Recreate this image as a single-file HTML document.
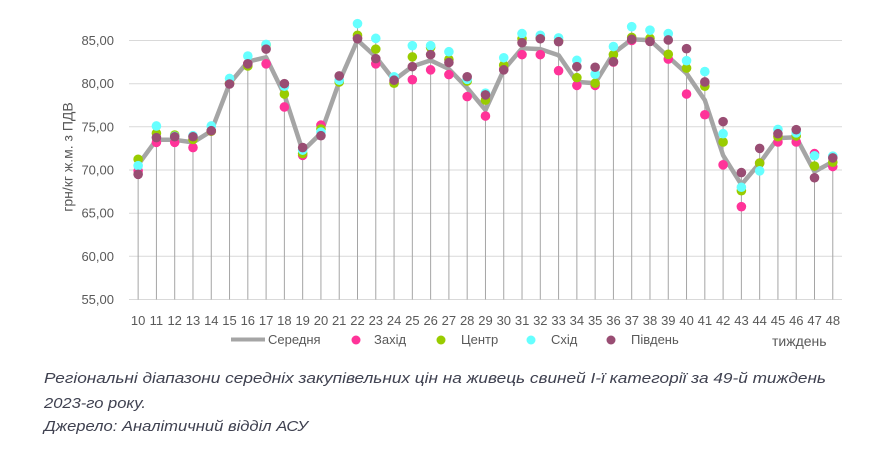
<!DOCTYPE html>
<html><head><meta charset="utf-8">
<style>
html,body{margin:0;padding:0;background:#fff;}
svg{display:block;}
.t{font-family:"Liberation Sans",sans-serif;fill:#595959;}
.c{font-family:"Liberation Sans",sans-serif;font-style:italic;fill:#3f4150;font-size:15px;}
</style></head>
<body>
<svg id="s" width="884" height="467" viewBox="0 0 884 467" xmlns="http://www.w3.org/2000/svg">
<g id="grid" stroke="#d9d9d9" stroke-width="1">
<line x1="129" x2="842" y1="40.5" y2="40.5"/>
<line x1="129" x2="842" y1="83.7" y2="83.7"/>
<line x1="129" x2="842" y1="126.8" y2="126.8"/>
<line x1="129" x2="842" y1="170" y2="170"/>
<line x1="129" x2="842" y1="213.2" y2="213.2"/>
<line x1="129" x2="842" y1="256.3" y2="256.3"/>
<line x1="129" x2="842" y1="299.5" y2="299.5"/>
</g>
<g class="t" font-size="13" text-anchor="end">
<text x="114" y="45">85,00</text>
<text x="114" y="88.2">80,00</text>
<text x="114" y="131.3">75,00</text>
<text x="114" y="174.5">70,00</text>
<text x="114" y="217.7">65,00</text>
<text x="114" y="260.8">60,00</text>
<text x="114" y="304">55,00</text>
</g>
<text class="t" font-size="14" text-anchor="middle" transform="translate(72.5,157) rotate(-90)">грн/кг ж.м. з ПДВ</text>
<g id="drops" stroke="#a5a5a5" stroke-width="1"></g>
<g id="series"></g>
<g class="t" font-size="13" text-anchor="middle">
<text x="138.1" y="325">10</text><text x="156.4" y="325">11</text><text x="174.7" y="325">12</text><text x="193" y="325">13</text><text x="211.3" y="325">14</text><text x="229.5" y="325">15</text><text x="247.8" y="325">16</text><text x="266.1" y="325">17</text><text x="284.4" y="325">18</text><text x="302.7" y="325">19</text><text x="321" y="325">20</text><text x="339.2" y="325">21</text><text x="357.5" y="325">22</text><text x="375.8" y="325">23</text><text x="394.1" y="325">24</text><text x="412.4" y="325">25</text><text x="430.7" y="325">26</text><text x="448.9" y="325">27</text><text x="467.2" y="325">28</text><text x="485.5" y="325">29</text><text x="503.8" y="325">30</text><text x="522.1" y="325">31</text><text x="540.3" y="325">32</text><text x="558.6" y="325">33</text><text x="576.9" y="325">34</text><text x="595.2" y="325">35</text><text x="613.5" y="325">36</text><text x="631.8" y="325">37</text><text x="650" y="325">38</text><text x="668.3" y="325">39</text><text x="686.6" y="325">40</text><text x="704.9" y="325">41</text><text x="723.2" y="325">42</text><text x="741.5" y="325">43</text><text x="759.7" y="325">44</text><text x="778" y="325">45</text><text x="796.3" y="325">46</text><text x="814.6" y="325">47</text><text x="832.9" y="325">48</text>
</g>
<line x1="231" x2="265" y1="339.5" y2="339.5" stroke="#a5a5a5" stroke-width="4"/>
<g class="t" font-size="13">
<text x="268" y="344">Середня</text>
<text x="374" y="344">Захід</text>
<text x="461" y="344">Центр</text>
<text x="551" y="344">Схід</text>
<text x="631" y="344">Південь</text>
</g>
<text class="t" font-size="14" x="772" y="346">тиждень</text>
<circle cx="356" cy="340" r="4.5" fill="#ff3399"/>
<circle cx="441" cy="340" r="4.5" fill="#99cc00"/>
<circle cx="531" cy="340" r="4.5" fill="#66ffff"/>
<circle cx="611" cy="340" r="4.5" fill="#994d73"/>
<text class="c" x="44" y="383" textLength="782" lengthAdjust="spacingAndGlyphs">Регіональні діапазони середніх закупівельних цін на живець свиней I-ї категорії за 49-й тиждень</text>
<text class="c" x="44" y="408" textLength="102" lengthAdjust="spacingAndGlyphs">2023-го року.</text>
<text class="c" x="44" y="431" textLength="264" lengthAdjust="spacingAndGlyphs">Джерело: Аналітичний відділ АСУ</text>
</svg>
<script>
(function(){
var d=[
[70.6,69.9,71.24,70.5,69.5],
[73.5,73.2,74.25,75.1,73.75],
[73.5,73.2,74.05,73.9,73.85],
[73.2,72.6,73.55,73.97,73.85],
[74.5,74.5,74.5,75.1,74.55],
[80.0,80.0,80.0,80.6,79.96],
[82.55,82.3,82.05,83.2,82.3],
[83.05,82.3,84.5,84.55,84.0],
[78.7,77.3,78.8,79.7,80.0],
[72.2,71.7,71.9,72.3,72.6],
[74.25,75.2,74.75,74.4,73.97],
[80.2,80.3,80.2,80.4,80.9],
[85.05,85.3,85.6,86.95,85.2],
[83.1,82.3,84.0,85.25,82.9],
[80.4,80.2,80.05,80.8,80.4],
[82.0,80.46,83.1,84.4,81.97],
[82.7,81.6,84.2,84.4,83.36],
[81.7,81.05,82.8,83.7,82.45],
[79.5,78.5,80.3,80.5,80.8],
[76.95,76.25,78.1,78.9,78.7],
[81.6,81.7,82.15,83.0,81.6],
[84.1,83.36,85.2,85.8,84.74],
[84.0,83.36,85.3,85.6,85.2],
[83.3,81.5,85.0,85.3,84.86],
[80.2,79.8,80.7,82.7,81.97],
[80.05,79.8,80.05,81.1,81.9],
[83.5,82.5,83.36,84.3,82.55],
[85.14,85.0,85.36,86.6,85.14],
[85.05,84.9,85.25,86.2,84.9],
[83.1,82.85,83.4,85.8,85.06],
[81.2,78.8,81.8,82.66,84.05],
[78.1,76.4,79.7,81.4,80.2],
[71.7,70.6,73.25,74.2,75.6],
[68.3,65.75,67.6,68.0,69.7],
[70.8,70.8,70.8,69.9,72.5],
[73.7,73.25,73.86,74.7,74.2],
[73.8,73.25,73.95,74.3,74.67],
[69.8,71.9,70.46,71.65,69.1],
[70.96,70.4,70.9,71.6,71.4]];
function X(i){return 129+(i+0.5)*18.28;}
function Y(v){return 40.5+(85-v)*8.633;}
var NS="http://www.w3.org/2000/svg";
var drops=document.getElementById("drops"),ser=document.getElementById("series");
var pts=[];
for(var i=0;i<d.length;i++){
  var mx=Math.max.apply(null,d[i]);
  var l=document.createElementNS(NS,"line");
  l.setAttribute("x1",X(i));l.setAttribute("x2",X(i));
  l.setAttribute("y1",Y(mx));l.setAttribute("y2",299.5);
  drops.appendChild(l);
  pts.push(X(i).toFixed(1)+","+Y(d[i][0]).toFixed(1));
}
var pl=document.createElementNS(NS,"polyline");
pl.setAttribute("points",pts.join(" "));
pl.setAttribute("fill","none");pl.setAttribute("stroke","#a5a5a5");
pl.setAttribute("stroke-width","4.5");pl.setAttribute("stroke-linejoin","round");pl.setAttribute("stroke-linecap","round");
ser.appendChild(pl);
var cols=["#ff3399","#99cc00","#66ffff","#994d73"];
for(var s=1;s<=4;s++){
  for(var i=0;i<d.length;i++){
    var c=document.createElementNS(NS,"circle");
    c.setAttribute("cx",X(i));c.setAttribute("cy",Y(d[i][s]));
    c.setAttribute("r","4.8");c.setAttribute("fill",cols[s-1]);
    ser.appendChild(c);
  }
}
})();
</script>
</body></html>
